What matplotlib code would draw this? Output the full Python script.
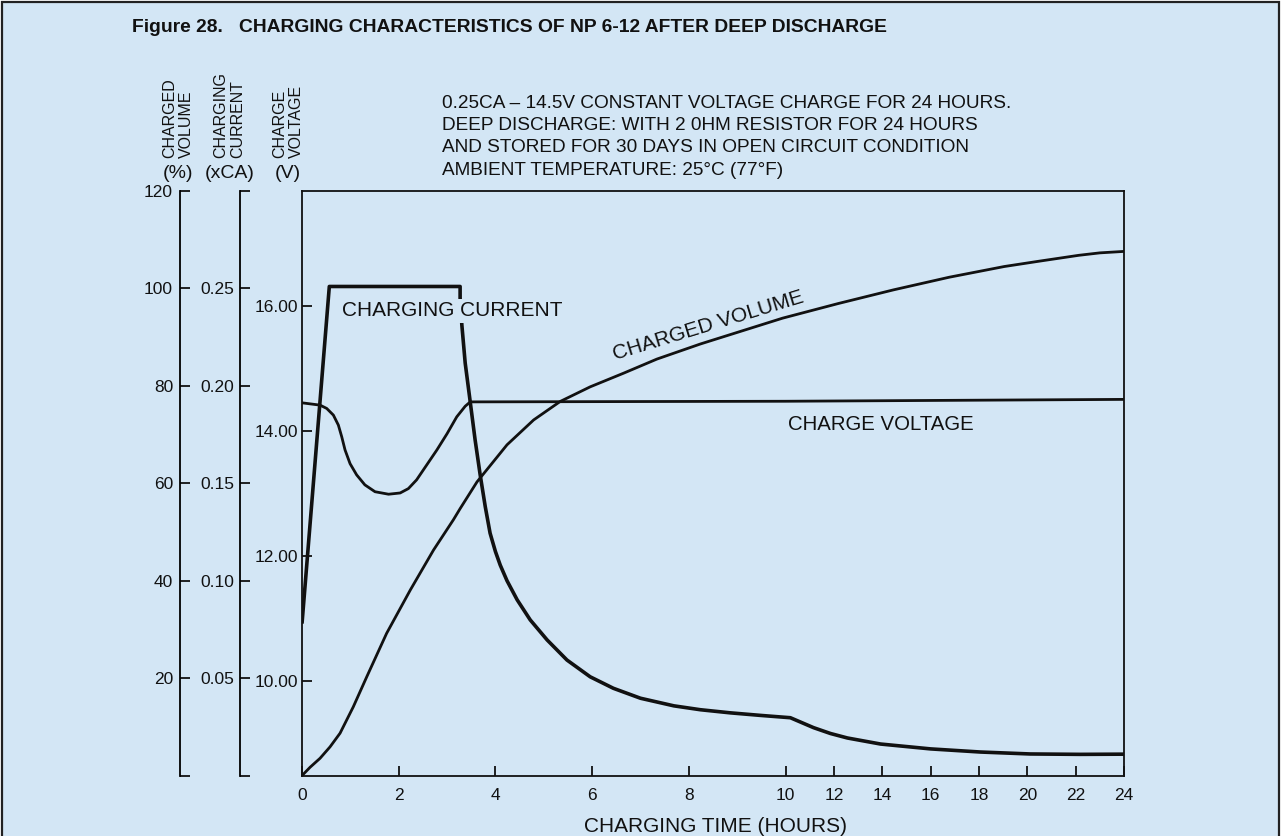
import numpy as np
import matplotlib
matplotlib.use("Agg")
import matplotlib.pyplot as plt
from matplotlib.patches import Rectangle
from matplotlib import font_manager

# ---------------- data ----------------
hours_current = [0, 0.565, 3.27, 3.27, 3.306, 3.375, 3.478, 3.58, 3.685, 3.79, 3.89,
                 4.0, 4.10, 4.24, 4.45, 4.72, 5.07, 5.48, 5.96, 6.44, 7.0, 7.69,
                 8.24, 8.86, 9.48, 10.2, 11.16, 11.86, 12.56, 13.93, 16.0, 18.06,
                 20.12, 22.19, 24]
charging_current = [0.078, 0.251, 0.251, 0.245, 0.2312, 0.2117, 0.192, 0.1723,
                    0.1543, 0.138, 0.1244, 0.115, 0.108, 0.1, 0.0902, 0.0799,
                    0.0696, 0.0593, 0.0507, 0.0448, 0.0397, 0.0358, 0.0338, 0.0322,
                    0.0309, 0.0297, 0.0246, 0.0216, 0.0193, 0.0162, 0.0137, 0.0121,
                    0.0111, 0.0109, 0.0110]

hours_voltage = [0, 0.373, 0.511, 0.649, 0.752, 0.822, 0.89, 0.994, 1.13, 1.30, 1.51,
                 1.79, 2.03, 2.20, 2.37, 2.58, 2.79, 3.0, 3.2, 3.375, 3.48, 10, 24]
charge_voltage = [14.455, 14.418, 14.365, 14.258, 14.098, 13.91, 13.70, 13.48, 13.30,
                  13.14, 13.03, 12.99, 13.01, 13.08, 13.22, 13.46, 13.70, 13.96,
                  14.23, 14.40, 14.47, 14.48, 14.51]

hours_volume = [0, 0.166, 0.373, 0.58, 0.787, 1.06, 1.34, 1.75, 2.24, 2.72, 3.13,
                3.27, 3.62, 4.24, 4.79, 5.34, 5.96, 6.65, 7.34, 8.24, 9.94, 12.18,
                14.46, 16.77, 19.05, 20.5, 22.13, 23.0, 24]
charged_volume = [0, 1.7, 3.55, 5.9, 8.7, 14.1, 20.3, 29.2, 38.1, 46.3, 52.5, 54.8,
                  60.3, 67.9, 73.0, 76.8, 79.8, 82.6, 85.5, 88.6, 93.9, 96.9, 99.7,
                  102.3, 104.5, 105.6, 106.8, 107.3, 107.6]

x_ticks = [0, 2, 4, 6, 8, 10, 12, 14, 16, 18, 20, 22, 24]
volume_ticks = [0, 20, 40, 60, 80, 100, 120]
volume_labels = ["", "20", "40", "60", "80", "100", "120"]
current_ticks = [0, 0.05, 0.10, 0.15, 0.20, 0.25, 0.30]
current_labels = ["", "0.05", "0.10", "0.15", "0.20", "0.25", ""]
voltage_ticks = [10, 12, 14, 16]
voltage_labels = ["10.00", "12.00", "14.00", "16.00"]

title = "Figure 28.   CHARGING CHARACTERISTICS OF NP 6-12 AFTER DEEP DISCHARGE"
notes = ["0.25CA \u2013 14.5V CONSTANT VOLTAGE CHARGE FOR 24 HOURS.",
         "DEEP DISCHARGE: WITH 2 0HM RESISTOR FOR 24 HOURS",
         "AND STORED FOR 30 DAYS IN OPEN CIRCUIT CONDITION",
         "AMBIENT TEMPERATURE: 25\u00b0C (77\u00b0F)"]

# ---------------- style ----------------
def has_font(name):
    try:
        font_manager.findfont(font_manager.FontProperties(family=name),
                              fallback_to_default=False)
        return True
    except Exception:
        return False

BODY = "Liberation Sans" if has_font("Liberation Sans") else "DejaVu Sans"
plt.rcParams["font.family"] = [BODY, "DejaVu Sans"]

BG = "#d3e6f5"
INK = "#111111"

W, H = 1281, 836
fig = plt.figure(figsize=(W / 100, H / 100), dpi=100)
fig.patch.set_facecolor("white")
fig.patches.append(Rectangle((2 / W, -0.01), (W - 4) / W, 1 - 2 / H + 0.01,
                             transform=fig.transFigure, facecolor=BG,
                             edgecolor="#222222", linewidth=1.6, zorder=-10))

def fx(px):
    return px / W

def fy(py):
    return 1 - py / H

L, R, T, B = 302, 1124, 191, 775.6
ax = fig.add_axes([fx(L), fy(B), (R - L) / W, (B - T) / H])
ax.set_facecolor("none")

# piecewise x-scale: 0-10 h full width, 10-24 h half width
def fwd(h):
    h = np.asarray(h, dtype=float)
    return np.where(h <= 10, h, 10 + (h - 10) / 2)

def inv(u):
    u = np.asarray(u, dtype=float)
    return np.where(u <= 10, u, 10 + (u - 10) * 2)

ax.set_xscale("function", functions=(fwd, inv))
ax.set_xlim(0, 24)
ax.set_xticks(x_ticks)
ax.set_xticklabels([str(t) for t in x_ticks])
ax.xaxis.set_minor_locator(matplotlib.ticker.NullLocator())
ax.tick_params(axis="x", direction="in", length=7, width=1.3, pad=9,
               labelsize=12.5, colors=INK)

ax.set_ylim(8.48, 17.85)
ax.set_yticks(voltage_ticks)
ax.set_yticklabels(voltage_labels)
ax.tick_params(axis="y", direction="in", length=7, width=1.3, pad=3,
               labelsize=12.5, colors=INK)
for s in ax.spines.values():
    s.set_linewidth(1.3)
    s.set_color(INK)

ax.plot(hours_voltage, charge_voltage, color=INK, lw=2.0, solid_capstyle="round",
        solid_joinstyle="round")

# volume axis
axv = ax.twinx()
axv.set_facecolor("none")
for k in ["right", "top", "bottom"]:
    axv.spines[k].set_visible(False)
axv.spines["left"].set_visible(True)
axv.spines["left"].set_position(("axes", (180 - L) / (R - L)))
axv.spines["left"].set_linewidth(1.3)
axv.yaxis.set_ticks_position("left")
axv.set_ylim(0, 120)
axv.set_yticks(volume_ticks)
axv.set_yticklabels(volume_labels)
axv.tick_params(axis="y", direction="in", length=7, width=1.3, pad=5,
                labelsize=12.5, colors=INK)
axv.plot(hours_volume, charged_volume, color=INK, lw=2.0, solid_capstyle="round",
         solid_joinstyle="round")

# current axis
axc = ax.twinx()
axc.set_facecolor("none")
for k in ["right", "top", "bottom"]:
    axc.spines[k].set_visible(False)
axc.spines["left"].set_visible(True)
axc.spines["left"].set_position(("axes", (240 - L) / (R - L)))
axc.spines["left"].set_linewidth(1.3)
axc.yaxis.set_ticks_position("left")
axc.set_ylim(0, 0.30)
axc.set_yticks(current_ticks)
axc.set_yticklabels(current_labels)
axc.tick_params(axis="y", direction="in", length=7, width=1.3, pad=4,
                labelsize=12.5, colors=INK)
axc.plot(hours_current, charging_current, color=INK, lw=2.6, solid_capstyle="butt",
         solid_joinstyle="round")

# ---------------- texts ----------------
fig.text(fx(132), fy(28), title, weight="bold", fontsize=13.9, ha="left",
         va="center", color=INK)

for i, line in enumerate(notes):
    fig.text(fx(442), fy(103 + 22.5 * i), line, fontsize=13.65, ha="left",
             va="center", color=INK)

# axis header labels
hdr = dict(rotation=90, fontsize=11.5, ha="center", va="bottom",
           multialignment="left", linespacing=1.15, color=INK)
fig.text(fx(178.5), fy(158), "CHARGED\nVOLUME", **hdr)
fig.text(fx(229), fy(158), "CHARGING\nCURRENT", **hdr)
fig.text(fx(288), fy(158), "CHARGE\nVOLTAGE", **hdr)
fig.text(fx(178), fy(173), "(%)", fontsize=14, ha="center", va="center", color=INK)
fig.text(fx(230), fy(173), "(xCA)", fontsize=14, ha="center", va="center", color=INK)
fig.text(fx(288), fy(173), "(V)", fontsize=14, ha="center", va="center", color=INK)

# curve labels
fig.text(fx(452), fy(311), "CHARGING CURRENT", fontsize=15, ha="center", va="center",
         color=INK, bbox=dict(facecolor=BG, edgecolor="none", pad=1.5), zorder=20)
fig.text(fx(708), fy(326), "CHARGED VOLUME", fontsize=15, ha="center", va="center",
         rotation=17, rotation_mode="anchor", color=INK)
fig.text(fx(881), fy(424), "CHARGE VOLTAGE", fontsize=14.7, ha="center", va="center",
         color=INK)
fig.text(fx(716), fy(826), "CHARGING TIME (HOURS)", fontsize=15, ha="center",
         va="center", color=INK)

fig.savefig("out.png", dpi=100, facecolor=fig.get_facecolor())
